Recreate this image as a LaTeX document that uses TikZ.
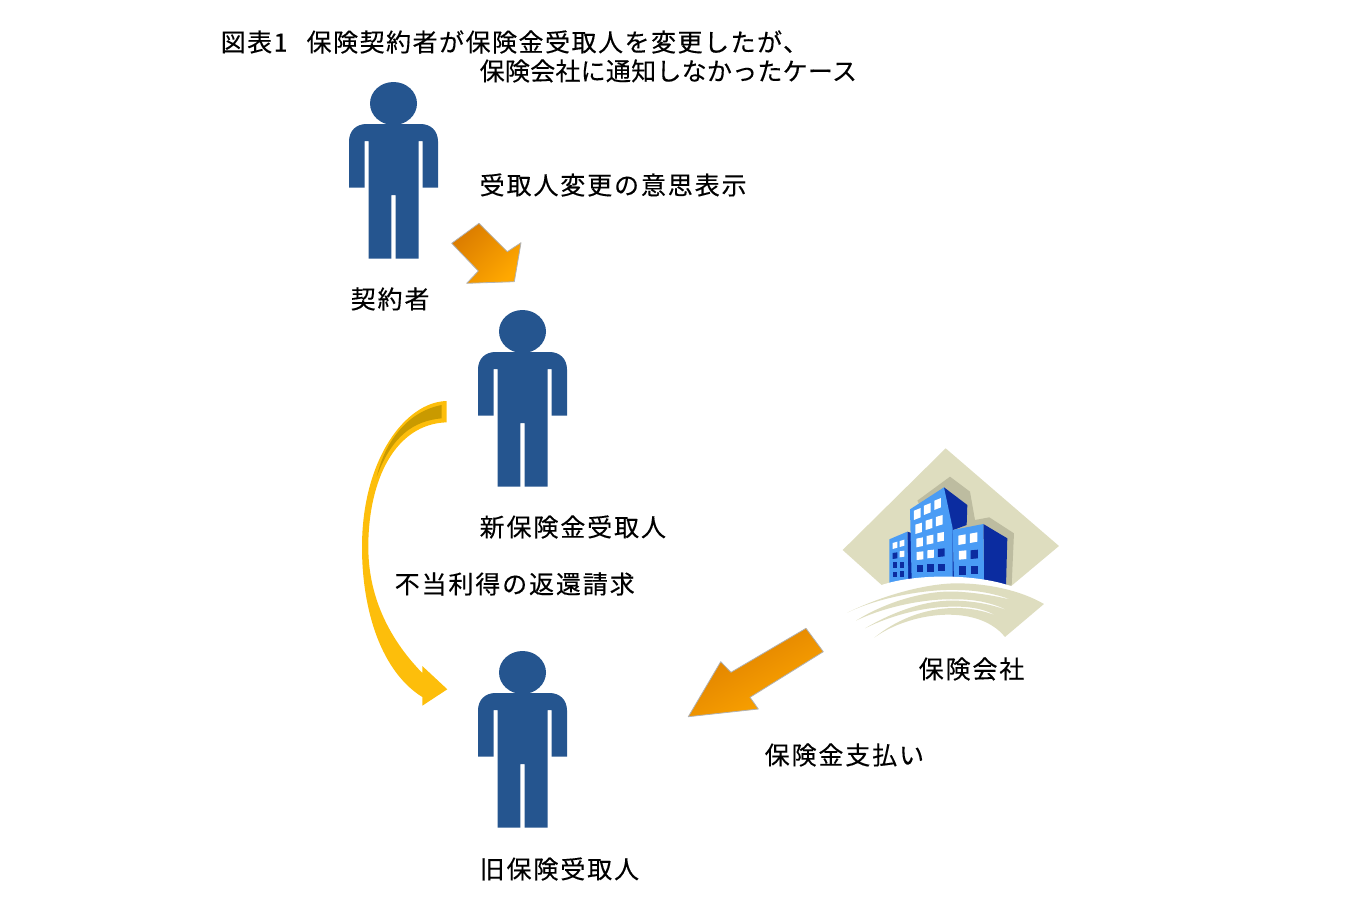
\documentclass[tikz,border=0pt]{standalone}
\usepackage{fontspec}
\newfontfamily\jpfont[LetterSpace=7.5,FakeBold=0.25]{Noto Sans CJK JP}
\newfontfamily\jptitle[LetterSpace=6,FakeBold=0.25]{Noto Sans CJK JP}
\newfontfamily\jpnarrow[LetterSpace=1,FakeBold=0.25]{Noto Sans CJK JP}
\definecolor{personblue}{HTML}{25558F}
\definecolor{beige}{HTML}{DEDDBF}
\definecolor{beigedark}{HTML}{BDBCA0}
\definecolor{lightblue}{HTML}{4A9CF5}
\definecolor{darkblue}{HTML}{0B2CA0}
\definecolor{amber}{HTML}{FDBE0B}
\definecolor{amberdark}{HTML}{C99A00}
\definecolor{orangedark}{HTML}{DB7C00}
\definecolor{orangelight}{HTML}{FFA800}

\begin{document}
\begin{tikzpicture}[x=1pt,y=-1pt]
      \tikzstyle{lbl}=[anchor=west, inner sep=0pt, font=\jpfont\fontsize{25}{28}\selectfont]
      \tikzstyle{person}=[fill=personblue]
      \tikzstyle{blockarrow}=[draw=black!30, line width=0.8pt, line join=round]
      \tikzstyle{win}=[line width=0pt]

      \useasboundingbox (0,0) rectangle (1345,919);

      % people
      \foreach \px/\py in {393.5/103.5, 522.5/331.5, 522.5/672.5} {
        \begin{scope}[shift={(\px,\py)}]
          \fill[person] (0,0) ellipse [x radius=23.5, y radius=21.5];
          \fill[person] (-44.5,84) -- (-44.5,38) .. controls (-44.5,27) and (-37,20.5) .. (-27,20.5)
            -- (27,20.5) .. controls (37,20.5) and (44.5,27) .. (44.5,38) -- (44.5,84) -- (29,84)
            -- (29,37.5) -- (25,37.5) -- (25,155) -- (2.2,155) -- (2.2,91.5) -- (-2.2,91.5)
            -- (-2.2,155) -- (-25,155) -- (-25,37.5) -- (-29,37.5) -- (-29,84) -- cycle;
        \end{scope}
      }

      % block arrows
      \shade[blockarrow, left color=orangedark, right color=orangelight, shading angle=45]
        (451.7,243.3) -- (479,223.3) -- (507.3,251.7) -- (521,242.7) -- (514.3,281.7)
        -- (466.7,283.3) -- (478.3,271) -- cycle;
      \shade[blockarrow, top color=orangedark, bottom color=orangelight, shading angle=30]
        (806,628.3) -- (823.3,651.7) -- (750,697.3) -- (758.3,709) -- (688.3,716.7)
        -- (720.7,661.7) -- (731,672.3) -- cycle;

      % curved arrow
      \fill[amber, line join=round] (446.7,401) .. controls (405,402) and (362,460) .. (362,547)
        .. controls (362,612) and (382,672) .. (422.3,697) -- (422.3,705.7) -- (447.3,689.3)
        -- (422.3,666) -- (422.3,673) .. controls (392,642) and (368.3,600) .. (368.3,547)
        .. controls (368.3,480) and (395,424) .. (446.7,422.3) -- cycle;
      \fill[amberdark] (441.7,405) -- (441.7,418.3) .. controls (413,421) and (392,436) .. (376.7,476.7)
        .. controls (386,438) and (410,411) .. (441.7,405) -- cycle;

      % insurance building
      \begin{scope}[shift={(830,440)}, x=0.3333pt, y=-0.3333pt]
        \fill[beige] (347,25) -- (687,318) -- (545,437) -- (155,435) -- (38,330) -- cycle;
        \fill[beigedark] (262,182) -- (360,110) -- (420,155) -- (435,240) -- (478,232) -- (552,280)
          -- (545,437) -- (400,437) -- cycle;
        % buildings
        \fill[darkblue] (232,275) -- (247,280) -- (247,425) -- (232,425) -- cycle;
        \fill[lightblue] (178,298) -- (232,275) -- (235,428) -- (178,432) -- cycle;
        \fill[darkblue] (342,142) -- (412,195) -- (410,255) -- (370,270) -- (372,420) -- (360,420) -- cycle;
        \fill[lightblue] (240,208) -- (342,142) -- (368,265) -- (368,420) -- (245,420) -- cycle;
        \fill[darkblue] (460,252) -- (532,295) -- (528,440) -- (462,425) -- cycle;
        \fill[lightblue] (368,270) -- (460,252) -- (462,425) -- (372,420) -- cycle;
        % windows
        \foreach \wx/\wy/\ww/\wh/\ws/\wc in {
          262/222/10/14/-4/white, 292/207/10/14/-4/white, 323/192/10/14/-4/white,
          266/265/10/14/-3/white, 297/253/10/14/-3/white, 328/242/10/14/-3/white,
          269/307/10/13/-2/white, 300/299/10/13/-2/white, 332/291/10/13/-2/white,
          270/347/10/12/-1/white, 302/342/10/12/-1/white, 334/338/10/12/-1/darkblue,
          270/385/10/11/0/darkblue, 302/384/10/11/0/darkblue, 334/382/10/11/0/darkblue,
          195/316/7/9/-2/white, 216/310/7/9/-2/white,
          195/347/7/9/-1/darkblue, 216/342/7/9/-1/white,
          195/376/7/9/0/darkblue, 216/374/7/9/0/darkblue,
          195/403/7/8/0/darkblue, 216/402/7/8/0/darkblue,
          396/299/11/14/-2/white, 431/293/11/14/-2/white,
          398/345/11/13/-1/white, 433/343/11/13/-1/darkblue,
          398/392/11/13/0/darkblue, 433/390/11/13/0/darkblue} {
          \fill[win, fill=\wc] (\wx-\ww,\wy-\wh-\ws) -- (\wx+\ww,\wy-\wh+\ws)
            -- (\wx+\ww,\wy+\wh+\ws) -- (\wx-\ww,\wy+\wh-\ws) -- cycle;
        }
        % white band under the buildings
        \fill[white] (130,445) .. controls (230,398) and (450,398) .. (560,445) -- (560,470) -- (130,470) -- cycle;
        % swoosh
        \fill[beige] (52,518) .. controls (170,460) and (300,430) .. (380,430)
          .. controls (470,430) and (570,450) .. (642,492) -- (525,591)
          .. controls (480,535) and (400,520) .. (330,525) .. controls (260,530) and (185,555) .. (133,593)
          .. controls (210,530) and (300,503) .. (380,504) .. controls (430,505) and (470,515) .. (500,528)
          .. controls (470,510) and (430,500) .. (380,500) .. controls (290,498) and (185,525) .. (105,565)
          .. controls (190,515) and (290,478) .. (380,482) .. controls (440,484) and (490,495) .. (535,512)
          .. controls (490,490) and (440,478) .. (380,478) .. controls (285,475) and (165,500) .. (78,542)
          .. controls (160,490) and (280,450) .. (380,455) .. controls (440,458) and (500,468) .. (545,480)
          .. controls (500,462) and (440,450) .. (380,450) .. controls (280,447) and (140,475) .. (52,518) -- cycle;
      \end{scope}

      % labels
      \node[lbl, font=\jptitle\fontsize{25}{28}\selectfont] (title) at (220.5,42) {図表1\hspace{19pt}保険契約者が保険金受取人を変更したが、};
      \node[lbl, font=\jpnarrow\fontsize{25}{28}\selectfont] (subtitle) at (479.5,71) {保険会社に通知しなかったケース};
      \node[lbl] (notice) at (479.5,185) {受取人変更の意思表示};
      \node[lbl] (holder) at (350.5,299) {契約者};
      \node[lbl] (newben) at (479.5,527) {新保険金受取人};
      \node[lbl] (claim) at (394.5,584) {不当利得の返還請求};
      \node[lbl] (insurer) at (918.5,669) {保険会社};
      \node[lbl] (payment) at (764.5,755) {保険金支払い};
      \node[lbl] (oldben) at (479.5,869) {旧保険受取人};
    \end{tikzpicture}
\end{document}
